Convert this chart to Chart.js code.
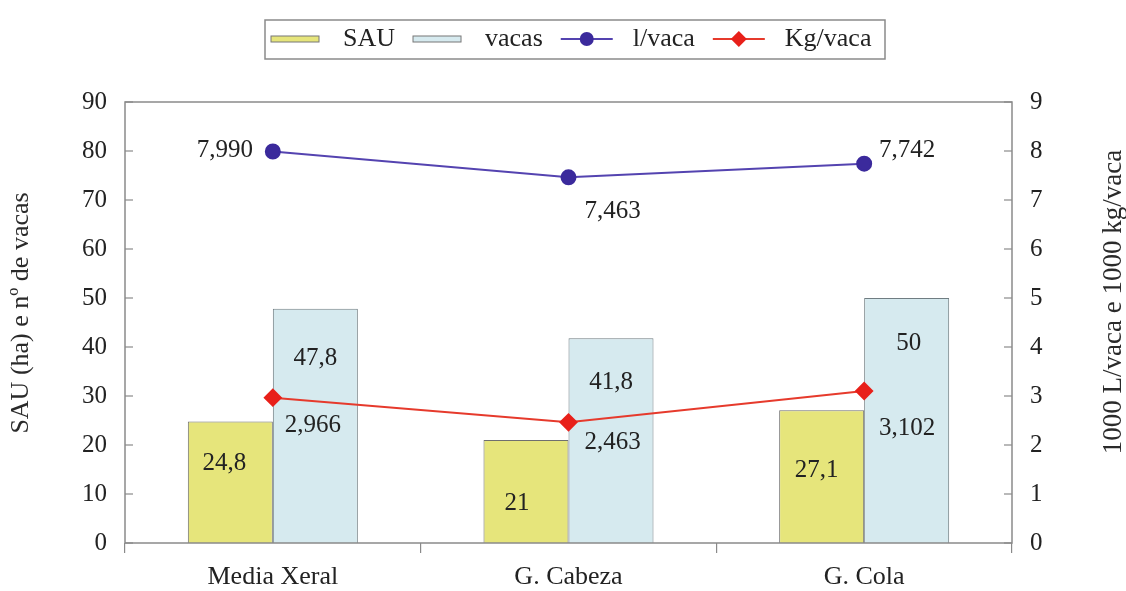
<!DOCTYPE html>
<html>
<head>
<meta charset="utf-8">
<script src="https://cdn.jsdelivr.net/npm/chart.js@4"></script>
<style>
  html, body { margin: 0; padding: 0; background: #fff; }
  #wrap { width: 1126px; height: 591px; }
</style>
</head>
<body>
<div id="wrap"><canvas id="grafico" width="1126" height="591"></canvas></div>
<script>
// 1. DATOS

const categorias = ["Media Xeral", "G. Cabeza", "G. Cola"];
const sau = [24.8, 21, 27.1];
const vacas = [47.8, 41.8, 50];
const litrosVaca = [7.990, 7.463, 7.742];
const kgVaca = [2.966, 2.463, 3.102];

const ticksIzq = [0, 10, 20, 30, 40, 50, 60, 70, 80, 90];
const ticksDer = [0, 1, 2, 3, 4, 5, 6, 7, 8, 9];

const tituloIzq = "SAU (ha) e nº de vacas";
const tituloDer = "1000 L/vaca e 1000 kg/vaca";

const FUENTE = "'Liberation Serif', 'Times New Roman', serif";
Chart.defaults.font.family = FUENTE;
Chart.defaults.color = "#222";

const coma = (v, dec) => v.toFixed(dec).replace(".", ",");
const formatos = [
  v => Number.isInteger(v) ? String(v) : coma(v, 1),
  v => Number.isInteger(v) ? String(v) : coma(v, 1),
  v => coma(v, 3),
  v => coma(v, 3)
];

// desplazamiento de cada etiqueta respecto a su barra / punto
const desplazamientos = [
  [[-6, 42], [-9, 63], [-5, 60]],
  [[0, 50], [0, 44], [2, 45]],
  [[-48, -1], [44, 34], [43, -13]],
  [[40, 28], [44, 20], [43, 37]]
];


// 2. PLUGINS

const pluginMarco = {
  id: "marco",
  afterDatasetsDraw(chart) {
    const { ctx, chartArea: a } = chart;
    ctx.save();
    ctx.strokeStyle = "#8a8a8a";
    ctx.lineWidth = 1.5;
    ctx.strokeRect(a.left, a.top, a.right - a.left, a.bottom - a.top);
    // marcas hacia dentro en los ejes Y
    ctx.lineWidth = 1.2;
    const y = chart.scales.y, y1 = chart.scales.y1;
    y.ticks.forEach(t => {
      const p = y.getPixelForValue(t.value);
      ctx.beginPath(); ctx.moveTo(a.left, p); ctx.lineTo(a.left + 8, p); ctx.stroke();
    });
    y1.ticks.forEach(t => {
      const p = y1.getPixelForValue(t.value);
      ctx.beginPath(); ctx.moveTo(a.right, p); ctx.lineTo(a.right - 8, p); ctx.stroke();
    });
    ctx.restore();
  }
};

const pluginEtiquetas = {
  id: "etiquetas",
  afterDatasetsDraw(chart) {
    const ctx = chart.ctx;
    ctx.save();
    ctx.font = "25px " + FUENTE;
    ctx.fillStyle = "#222";
    ctx.textAlign = "center";
    ctx.textBaseline = "middle";
    chart.data.datasets.forEach((ds, d) => {
      chart.getDatasetMeta(d).data.forEach((el, i) => {
        const [dx, dy] = desplazamientos[d][i];
        ctx.fillText(formatos[d](ds.data[i]), el.x + dx, el.y + dy);
      });
    });
    ctx.restore();
  }
};

const pluginTitulos = {
  id: "titulos",
  afterDraw(chart) {
    const ctx = chart.ctx;
    ctx.save();
    ctx.fillStyle = "#2a2a2a";
    ctx.textAlign = "center";
    ctx.textBaseline = "middle";
    [[tituloIzq, 21, 313, 26], [tituloDer, 1114, 302, 27]].forEach(([txt, x, y, tam]) => {
      ctx.save();
      ctx.font = tam + "px " + FUENTE;
      ctx.translate(x, y);
      ctx.rotate(-Math.PI / 2);
      ctx.fillText(txt, 0, 0);
      ctx.restore();
    });
    ctx.restore();
  }
};

const pluginLeyenda = {
  id: "leyenda",
  afterDraw(chart) {
    const ctx = chart.ctx;
    ctx.save();
    ctx.font = "26px " + FUENTE;
    ctx.textBaseline = "middle";
    ctx.strokeStyle = "#8a8a8a";
    ctx.lineWidth = 1.5;
    ctx.strokeRect(265, 20, 620, 39);
    const yc = 39;
    let x = 271;
    chart.data.datasets.forEach(ds => {
      if (ds.type === "bar") {
        ctx.fillStyle = ds.backgroundColor;
        ctx.fillRect(x, yc - 3, 48, 6);
        ctx.strokeStyle = "#777";
        ctx.lineWidth = 1;
        ctx.strokeRect(x, yc - 3, 48, 6);
      } else {
        ctx.strokeStyle = ds.borderColor;
        ctx.lineWidth = 2;
        ctx.beginPath(); ctx.moveTo(x, yc); ctx.lineTo(x + 52, yc); ctx.stroke();
        ctx.fillStyle = ds.pointBackgroundColor;
        ctx.beginPath();
        if (ds.pointStyle === "circle") {
          ctx.arc(x + 26, yc, ds.pointRadius, 0, Math.PI * 2);
        } else {
          const r = ds.pointRadius;
          ctx.moveTo(x + 26, yc - r); ctx.lineTo(x + 26 + r, yc);
          ctx.lineTo(x + 26, yc + r); ctx.lineTo(x + 26 - r, yc); ctx.closePath();
        }
        ctx.fill();
      }
      x += 52 + 20;
      ctx.fillStyle = "#222";
      ctx.fillText(ds.label, x, yc);
      x += ctx.measureText(ds.label).width + 18;
    });
    ctx.restore();
  }
};


// 3. GRÁFICO

const ctx = document.getElementById("grafico");

new Chart(ctx, {
  data: {
    labels: categorias,
    datasets: [
      {
        type: "bar", label: "SAU", data: sau, yAxisID: "y", order: 2,
        backgroundColor: "#e6e57b", borderColor: "#6f6f6f", borderWidth: 1,
        barPercentage: 1, categoryPercentage: 0.575
      },
      {
        type: "bar", label: "vacas", data: vacas, yAxisID: "y", order: 2,
        backgroundColor: "#d6eaef", borderColor: "#707d82", borderWidth: 1,
        barPercentage: 1, categoryPercentage: 0.575
      },
      {
        type: "line", label: "l/vaca", data: litrosVaca, yAxisID: "y1", order: 1,
        borderColor: "#5443b0", borderWidth: 2, pointStyle: "circle",
        pointRadius: 7, pointBackgroundColor: "#3b2a9c", pointBorderColor: "#3b2a9c"
      },
      {
        type: "line", label: "Kg/vaca", data: kgVaca, yAxisID: "y1", order: 1,
        borderColor: "#e63a2c", borderWidth: 2, pointStyle: "rectRot",
        pointRadius: 8, pointBackgroundColor: "#e8201a", pointBorderColor: "#e8201a"
      }
    ]
  },
  options: {
    responsive: false,
    animation: false,
    layout: { padding: { top: 102, left: 0, right: 0, bottom: 0 } },
    plugins: { legend: { display: false }, tooltip: { enabled: false } },
    scales: {
      x: {
        grid: { offset: true, drawOnChartArea: false, tickLength: 10, color: "#8a8a8a", lineWidth: 1.2 },
        border: { display: false },
        ticks: { font: { size: 26 }, padding: 9, color: "#222" },
        afterFit: s => { s.height = 48; }
      },
      y: {
        position: "left", min: 0, max: 90,
        grid: { display: false, drawTicks: false },
        border: { display: false },
        ticks: { font: { size: 25 }, padding: 18, color: "#222" },
        afterBuildTicks: s => { s.ticks = ticksIzq.map(v => ({ value: v })); },
        afterFit: s => { s.width = 125; }
      },
      y1: {
        position: "right", min: 0, max: 9,
        grid: { display: false, drawTicks: false },
        border: { display: false },
        ticks: { font: { size: 25 }, padding: 18, color: "#222" },
        afterBuildTicks: s => { s.ticks = ticksDer.map(v => ({ value: v })); },
        afterFit: s => { s.width = 114; }
      }
    }
  },
  plugins: [pluginMarco, pluginEtiquetas, pluginTitulos, pluginLeyenda]
});
</script>
</body>
</html>
